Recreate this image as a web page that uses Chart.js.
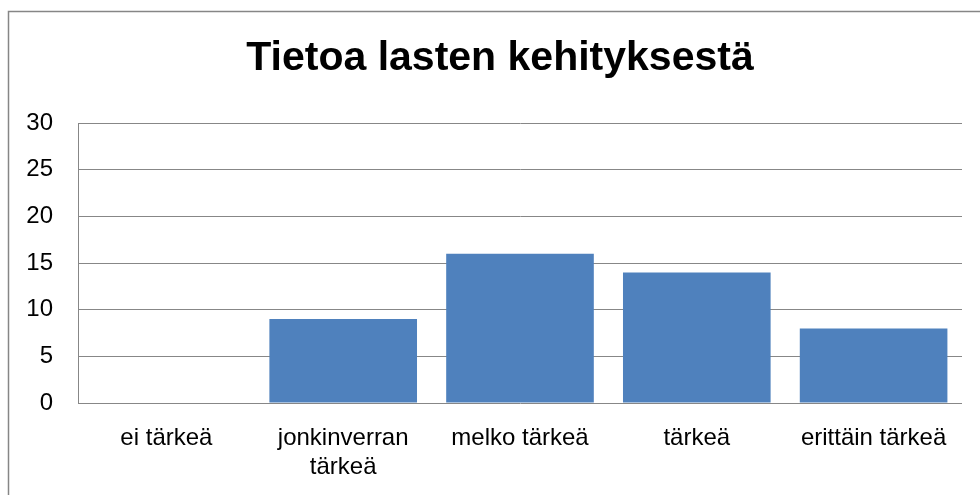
<!DOCTYPE html>
<html>
<head>
<meta charset="utf-8">
<script src="https://cdn.jsdelivr.net/npm/chart.js@4/dist/chart.umd.min.js"></script>
<style>
  body { margin: 0; background: #fff; }
  #wrap { width: 980px; height: 495px; position: relative; }
</style>
</head>
<body>
<div id="wrap"><canvas id="myChart"></canvas></div>
<script>
const categories = ["ei tärkeä", ["jonkinverran", "tärkeä"], "melko tärkeä", "tärkeä", "erittäin tärkeä"];
const values = [0, 9, 16, 14, 8];
const yTicks = [0, 5, 10, 15, 20, 25, 30];
const chartTitle = "Tietoa lasten kehityksestä";

const frame = {
  id: "frame",
  beforeDraw: (chart) => {
    const ctx = chart.ctx;
    ctx.save();
    ctx.strokeStyle = "#868686";
    ctx.lineWidth = 1.5;
    ctx.strokeRect(8.5, 11.5, 1000, 600);
    ctx.restore();
  },
  afterLayout: (chart) => {
    // centre the title a little to the right, like the original
    if (chart.titleBlock) {
      chart.titleBlock.left = 38;
      chart.titleBlock.right = 962;
    }
  }
};

const ctx = document.getElementById("myChart").getContext("2d");
const myChart = new Chart(ctx, {
  type: "bar",
  data: {
    labels: categories,
    datasets: [{
      data: values,
      backgroundColor: "#4F81BD",
      borderWidth: 0,
      barPercentage: 0.835,
      categoryPercentage: 1
    }]
  },
  options: {
    responsive: true,
    maintainAspectRatio: false,
    animation: false,
    layout: { padding: { top: 34, right: 18, bottom: 0, left: 0 } },
    plugins: {
      legend: { display: false },
      tooltip: { enabled: false },
      title: {
        display: true,
        text: chartTitle,
        color: "#000",
        font: { family: "'Liberation Sans', Arial, sans-serif", size: 41, weight: "bold" },
        padding: { top: 0, bottom: 40 }
      }
    },
    scales: {
      x: {
        grid: { display: false, drawTicks: false },
        border: { display: false },
        ticks: {
          color: "#000",
          font: { family: "'Liberation Sans', Arial, sans-serif", size: 24 },
          padding: 21,
          maxRotation: 0,
          autoSkip: false
        },
        afterFit: (scale) => { scale.height = 92; }
      },
      y: {
        min: 0,
        max: 30,
        afterBuildTicks: (scale) => { scale.ticks = yTicks.map((v) => ({ value: v })); },
        grid: { color: "#878787", lineWidth: 1, drawTicks: false },
        border: { display: true, color: "#878787", width: 1 },
        ticks: {
          color: "#000",
          font: { family: "'Liberation Sans', Arial, sans-serif", size: 24 },
          padding: 25
        },
        afterFit: (scale) => { scale.width = 78; }
      }
    }
  },
  plugins: [frame]
});
</script>
</body>
</html>
